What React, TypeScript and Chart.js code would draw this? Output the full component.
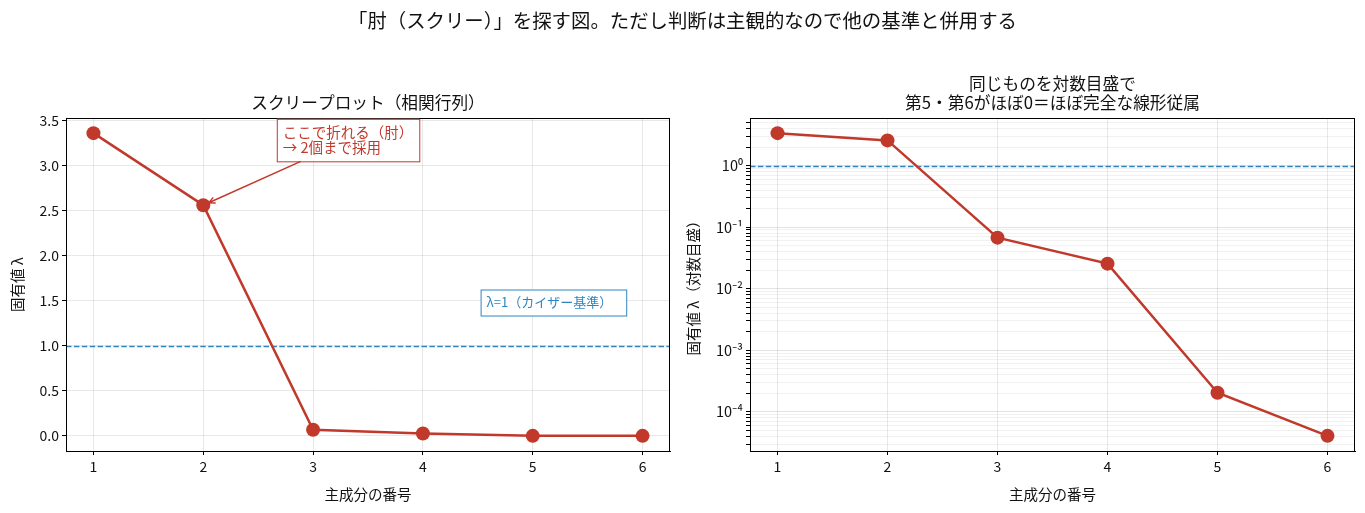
import { useEffect, useRef } from "react";
import { Chart, registerables } from "chart.js";

Chart.register(...registerables);

const FONT = '"Noto Sans CJK JP", "Noto Sans", sans-serif';
const RED = "#c0392b";
const BLUE = "#2e86c1";

// data
const components = [1, 2, 3, 4, 5, 6];
const eigenvalues = [3.36, 2.56, 0.0675, 0.0255, 0.000204, 0.0000407];
const linearTicks = [0, 0.5, 1, 1.5, 2, 2.5, 3, 3.5];
const logMajorTicks = [1e-4, 1e-3, 1e-2, 1e-1, 1];
const logTickLabels = ["10⁻⁴", "10⁻³", "10⁻²", "10⁻¹", "10⁰"];
const kaiserLine = 1;
const elbowIndex = 1;

const suptitle = "「肘（スクリー）」を探す図。ただし判断は主観的なので他の基準と併用する";
const leftTitle = ["スクリープロット（相関行列）"];
const rightTitle = ["同じものを対数目盛で", "第5・第6がほぼ0＝ほぼ完全な線形従属"];
const xLabel = "主成分の番号";
const leftYLabel = "固有値 λ";
const rightYLabel = "固有値 λ（対数目盛）";
const elbowNote = ["ここで折れる（肘）", "→ 2個まで採用"];
const kaiserNote = "λ=1（カイザー基準）";

const X_MIN = 0.75;
const X_MAX = 6.25;

const isMajor = (v: number) => Math.abs(Math.log10(v) - Math.round(Math.log10(v))) < 1e-6;

const decor = (kind: "linear" | "log") => ({
  id: "decor_" + kind,
  beforeDatasetsDraw(chart: any) {
    const { ctx, chartArea: a, scales } = chart;
    const y = Math.round(scales.y.getPixelForValue(kaiserLine)) + 0.5;
    ctx.save();
    ctx.strokeStyle = BLUE;
    ctx.lineWidth = 1.5;
    ctx.setLineDash([5.5, 2.4]);
    ctx.beginPath();
    ctx.moveTo(a.left, y);
    ctx.lineTo(a.right, y);
    ctx.stroke();
    ctx.restore();
  },
  afterDatasetsDraw(chart: any) {
    const { ctx, chartArea: a, scales } = chart;
    ctx.save();
    // frame
    ctx.strokeStyle = "#000";
    ctx.lineWidth = 1;
    ctx.strokeRect(a.left + 0.5, a.top + 0.5, a.right - a.left - 1, a.bottom - a.top);

    const cx = (a.left + a.right) / 2;
    ctx.fillStyle = "#111";
    ctx.textAlign = "center";
    ctx.textBaseline = "middle";

    // title
    ctx.font = `16.7px ${FONT}`;
    const title = kind === "linear" ? leftTitle : rightTitle;
    title.forEach((t, i) => {
      ctx.fillText(t, cx, a.top - 15 - (title.length - 1 - i) * 19);
    });

    // axis labels
    ctx.font = `14.5px ${FONT}`;
    ctx.fillText(xLabel, cx, a.bottom + 43);
    ctx.save();
    ctx.translate(kind === "linear" ? 17 : 11, (a.top + a.bottom) / 2);
    ctx.rotate(-Math.PI / 2);
    ctx.fillText(kind === "linear" ? leftYLabel : rightYLabel, 0, 0);
    ctx.restore();

    if (kind === "linear") {
      const xs = scales.x;
      const ys = scales.y;

      // elbow note
      ctx.font = `14.5px ${FONT}`;
      ctx.textAlign = "left";
      const tx = xs.getPixelForValue(2.724);
      const tyMid = ys.getPixelForValue(3.283);
      const lineGap = 15.5;
      const w = Math.max(...elbowNote.map((s) => ctx.measureText(s).width));
      const bx = tx - 6;
      const by = tyMid - lineGap / 2 - 13.5;
      const bw = w + 12;
      const bh = lineGap + 27;
      ctx.fillStyle = "#fff";
      ctx.fillRect(bx, by, bw, bh);
      ctx.strokeStyle = RED;
      ctx.lineWidth = 1;
      ctx.strokeRect(bx + 0.5, by + 0.5, bw, bh);
      ctx.fillStyle = RED;
      elbowNote.forEach((s, i) => ctx.fillText(s, tx, tyMid - lineGap / 2 + i * lineGap));

      // arrow from box to the elbow point
      const px = xs.getPixelForValue(components[elbowIndex]);
      const py = ys.getPixelForValue(eigenvalues[elbowIndex]);
      const ccx = bx + bw / 2;
      const ccy = by + bh / 2;
      const dx = px - ccx;
      const dy = py - ccy;
      const t0 = Math.min(Math.abs(bh / 2 / dy), Math.abs(bw / 2 / dx));
      const sx = ccx + dx * t0;
      const sy = ccy + dy * t0;
      const len = Math.hypot(dx, dy);
      const ex = px - (dx / len) * 6;
      const ey = py - (dy / len) * 6;
      const ang = Math.atan2(ey - sy, ex - sx);
      ctx.strokeStyle = RED;
      ctx.lineWidth = 1.4;
      ctx.beginPath();
      ctx.moveTo(sx, sy);
      ctx.lineTo(ex, ey);
      ctx.moveTo(ex - 7 * Math.cos(ang - 0.45), ey - 7 * Math.sin(ang - 0.45));
      ctx.lineTo(ex, ey);
      ctx.lineTo(ex - 7 * Math.cos(ang + 0.45), ey - 7 * Math.sin(ang + 0.45));
      ctx.stroke();

      // kaiser note
      ctx.font = `13px ${FONT}`;
      const kx = xs.getPixelForValue(4.58);
      const ky = ys.getPixelForValue(1.48);
      const kw = ctx.measureText(kaiserNote).width;
      ctx.fillStyle = "#fff";
      ctx.fillRect(kx - 6, ky - 13, kw + 20, 26);
      ctx.strokeStyle = BLUE;
      ctx.lineWidth = 1;
      ctx.strokeRect(kx - 6 + 0.5, ky - 13 + 0.5, kw + 20, 26);
      ctx.fillStyle = BLUE;
      ctx.fillText(kaiserNote, kx, ky);
    }
    ctx.restore();
  },
});

const xScale = () => ({
  type: "linear" as const,
  min: X_MIN,
  max: X_MAX,
  afterBuildTicks: (s: any) => {
    s.ticks = components.map((v) => ({ value: v }));
  },
  afterFit: (s: any) => {
    s.height = 62;
  },
  ticks: {
    color: "#111",
    font: { size: 14, family: FONT },
    padding: 3,
    maxRotation: 0,
    autoSkip: false,
    callback: (v: any) => String(v),
  },
  grid: {
    color: "rgba(0,0,0,0.09)",
    tickColor: "#000",
    tickLength: 4,
    lineWidth: 1,
  },
  border: { color: "#000", width: 1 },
});

function ScreePanel({ kind }: { kind: "linear" | "log" }) {
  const ref = useRef<HTMLCanvasElement | null>(null);

  useEffect(() => {
    if (!ref.current) return;
    const isLog = kind === "log";

    const logAll: number[] = [];
    for (let e = -5; e <= 0; e++) {
      for (let m = 1; m <= 9; m++) logAll.push(m * Math.pow(10, e));
    }

    const yMin = isLog ? 2.31e-5 : -0.168;
    const yMax = isLog ? 5.92 : 3.528;

    const chart = new Chart(ref.current, {
      type: "line",
      data: {
        datasets: [
          {
            data: components.map((c, i) => ({ x: c, y: eigenvalues[i] })),
            borderColor: RED,
            backgroundColor: RED,
            borderWidth: 2.5,
            pointRadius: 7,
            pointHoverRadius: 7,
            pointBackgroundColor: RED,
            pointBorderColor: RED,
            pointBorderWidth: 0,
            tension: 0,
          },
        ],
      },
      options: {
        responsive: true,
        maintainAspectRatio: false,
        animation: false,
        events: [],
        layout: {
          padding: { left: 0, top: 118, right: isLog ? 10 : 12, bottom: 0 },
        },
        plugins: {
          legend: { display: false },
          tooltip: { enabled: false },
          title: { display: false },
        },
        scales: {
          x: xScale() as any,
          y: isLog
            ? {
                type: "logarithmic",
                min: yMin,
                max: yMax,
                afterBuildTicks: (s: any) => {
                  s.ticks = logAll
                    .filter((v) => v >= yMin && v <= yMax)
                    .map((v) => ({ value: v, major: isMajor(v) }));
                },
                afterFit: (s: any) => {
                  s.width = 68;
                },
                ticks: {
                  color: "#111",
                  font: { size: 14.5, family: FONT },
                  padding: 3,
                  autoSkip: false,
                  callback: (v: any) => {
                    const idx = logMajorTicks.findIndex((m) => Math.abs(m - v) / m < 1e-6);
                    return idx >= 0 ? logTickLabels[idx] : "";
                  },
                },
                grid: {
                  color: (c: any) =>
                    c.tick && isMajor(c.tick.value) ? "rgba(0,0,0,0.11)" : "rgba(0,0,0,0.055)",
                  tickColor: "#000",
                  tickLength: 4,
                  lineWidth: 1,
                },
                border: { color: "#000", width: 1 },
              }
            : {
                type: "linear",
                min: yMin,
                max: yMax,
                afterBuildTicks: (s: any) => {
                  s.ticks = linearTicks.map((v) => ({ value: v }));
                },
                afterFit: (s: any) => {
                  s.width = 66;
                },
                ticks: {
                  color: "#111",
                  font: { size: 14, family: FONT },
                  padding: 3,
                  autoSkip: false,
                  callback: (v: any) => Number(v).toFixed(1),
                },
                grid: {
                  color: "rgba(0,0,0,0.09)",
                  tickColor: "#000",
                  tickLength: 4,
                  lineWidth: 1,
                },
                border: { color: "#000", width: 1 },
              },
        },
      },
      plugins: [decor(kind)],
    });

    return () => {
      chart.destroy();
    };
  }, [kind]);

  return (
    <div
      style={{
        position: "absolute",
        top: 0,
        left: kind === "linear" ? 0 : 682,
        width: kind === "linear" ? 682 : 683,
        height: 513,
      }}
    >
      <canvas ref={ref}></canvas>
    </div>
  );
}

export default function App() {
  useEffect(() => {
    document.body.style.margin = "0";
    document.body.style.background = "#fff";
  }, []);

  return (
    <div style={{ position: "relative", width: 1365, height: 513, background: "#fff", overflow: "hidden" }}>
      <ScreePanel kind="linear" />
      <ScreePanel kind="log" />
      <div
        style={{
          position: "absolute",
          top: 8,
          left: 0,
          width: 1365,
          textAlign: "center",
          fontFamily: FONT,
          fontSize: 19.4,
          lineHeight: "24px",
          color: "#111",
        }}
      >
        {suptitle}
      </div>
    </div>
  );
}
